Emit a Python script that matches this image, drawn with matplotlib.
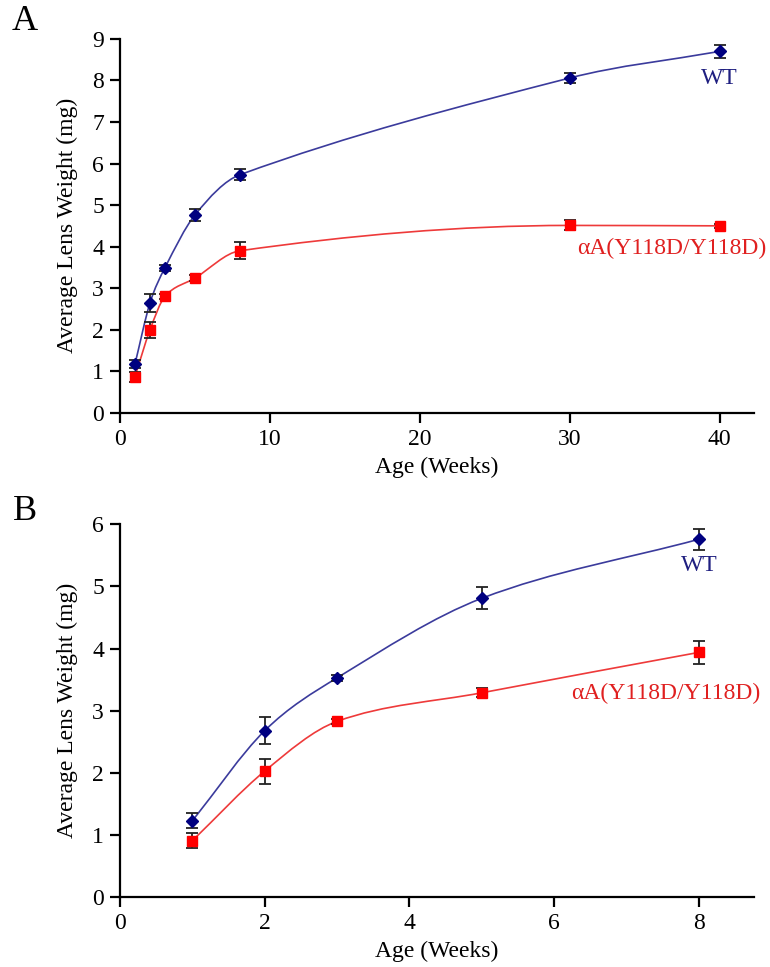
import numpy as np
import matplotlib.pyplot as plt
from matplotlib.path import Path
from matplotlib.patches import PathPatch

plt.rcParams['font.family'] = ['Liberation Serif', 'DejaVu Serif']

# Panel A data (0-40 weeks)
a_age = [1, 2, 3, 5, 8, 30, 40]
a_wt = [1.17, 2.64, 3.49, 4.76, 5.73, 8.06, 8.70]
a_wt_err = [0.10, 0.22, 0.07, 0.15, 0.13, 0.12, 0.15]
a_mut = [0.87, 1.99, 2.80, 3.24, 3.90, 4.51, 4.50]
a_mut_err = [0.12, 0.20, 0.05, 0.07, 0.20, 0.12, 0.05]

# Panel B data (0-8 weeks)
b_age = [1, 2, 3, 5, 8]
b_wt = [1.23, 2.68, 3.53, 4.81, 5.76]
b_wt_err = [0.12, 0.22, 0.05, 0.18, 0.17]
b_mut = [0.91, 2.03, 2.83, 3.29, 3.94]
b_mut_err = [0.12, 0.20, 0.04, 0.07, 0.18]

WT_COL = '#000080'
WT_LINE = '#3b3b9c'
MUT_COL = '#ff0000'
MUT_LINE = '#ee3a3a'
FS = 17


def smooth_line(ax, x, y, color):
    # smoothed line through the points, tangents scaled by x spacing
    x = np.asarray(x, float)
    y = np.asarray(y, float)
    n = len(x)
    seg = np.diff(y) / np.diff(x)
    slope = np.zeros(n)
    for i in range(n):
        lo, hi = max(i - 1, 0), min(i + 1, n - 1)
        slope[i] = (y[hi] - y[lo]) / (x[hi] - x[lo])
        if 0 < i < n - 1 and seg[i - 1] * seg[i] <= 0:
            slope[i] = 0.0
    verts = [(x[0], y[0])]
    codes = [Path.MOVETO]
    for i in range(n - 1):
        h = x[i + 1] - x[i]
        verts += [(x[i] + h / 3, y[i] + slope[i] * h / 3),
                  (x[i + 1] - h / 3, y[i + 1] - slope[i + 1] * h / 3),
                  (x[i + 1], y[i + 1])]
        codes += [Path.CURVE4] * 3
    ax.add_patch(PathPatch(Path(verts, codes), fill=False, edgecolor=color, lw=1.2, zorder=2))


def panel(ax, age, wt, wt_err, mut, mut_err, xlim, xticks, ylim, yticks):
    smooth_line(ax, age, wt, WT_LINE)
    smooth_line(ax, age, mut, MUT_LINE)
    ax.errorbar(age, wt, yerr=wt_err, fmt='D', color=WT_COL, ms=6.5,
                ecolor='#222222', elinewidth=1.3, capsize=4.5, capthick=1.3, zorder=3)
    ax.errorbar(age, mut, yerr=mut_err, fmt='s', color=MUT_COL, ms=7,
                ecolor='#222222', elinewidth=1.3, capsize=4.5, capthick=1.3, zorder=3)
    ax.set_xlim(*xlim)
    ax.set_ylim(*ylim)
    ax.set_xticks(xticks)
    ax.set_yticks(yticks)
    for s in ['top', 'right']:
        ax.spines[s].set_visible(False)
    for s in ['left', 'bottom']:
        ax.spines[s].set_linewidth(1.6)
    ax.tick_params(direction='out', length=7.5, width=1.6, labelsize=FS, pad=4)
    ax.set_xlabel('Age (Weeks)', fontsize=FS, labelpad=5)
    ax.set_ylabel('Average Lens Weight (mg)', fontsize=FS, labelpad=10)


fig = plt.figure(figsize=(7.7, 9.67), dpi=100)

axA = fig.add_axes([0.1558, 0.5732, 0.8234, 0.3865])
panel(axA, a_age, a_wt, a_wt_err, a_mut, a_mut_err,
      (0, 42.3), [0, 10, 20, 30, 40], (0, 9), range(0, 10))
axA.text(40, 8.05, 'WT', color='#1f1f80', fontsize=FS, ha='center', va='center')
axA.text(36.8, 3.96, 'αA(Y118D/Y118D)', color='#e02020', fontsize=FS, ha='center', va='center')

axB = fig.add_axes([0.1558, 0.0721, 0.8234, 0.3857])
panel(axB, b_age, b_wt, b_wt_err, b_mut, b_mut_err,
      (0, 8.76), [0, 2, 4, 6, 8], (0, 6), range(0, 7))
axB.text(8.0, 5.34, 'WT', color='#1f1f80', fontsize=FS, ha='center', va='center')
axB.text(7.54, 3.28, 'αA(Y118D/Y118D)', color='#e02020', fontsize=FS, ha='center', va='center')

fig.text(0.015, 0.978, 'A', fontsize=26, ha='left', va='center')
fig.text(0.017, 0.471, 'B', fontsize=26, ha='left', va='center')

fig.savefig('out.png', dpi=100)
